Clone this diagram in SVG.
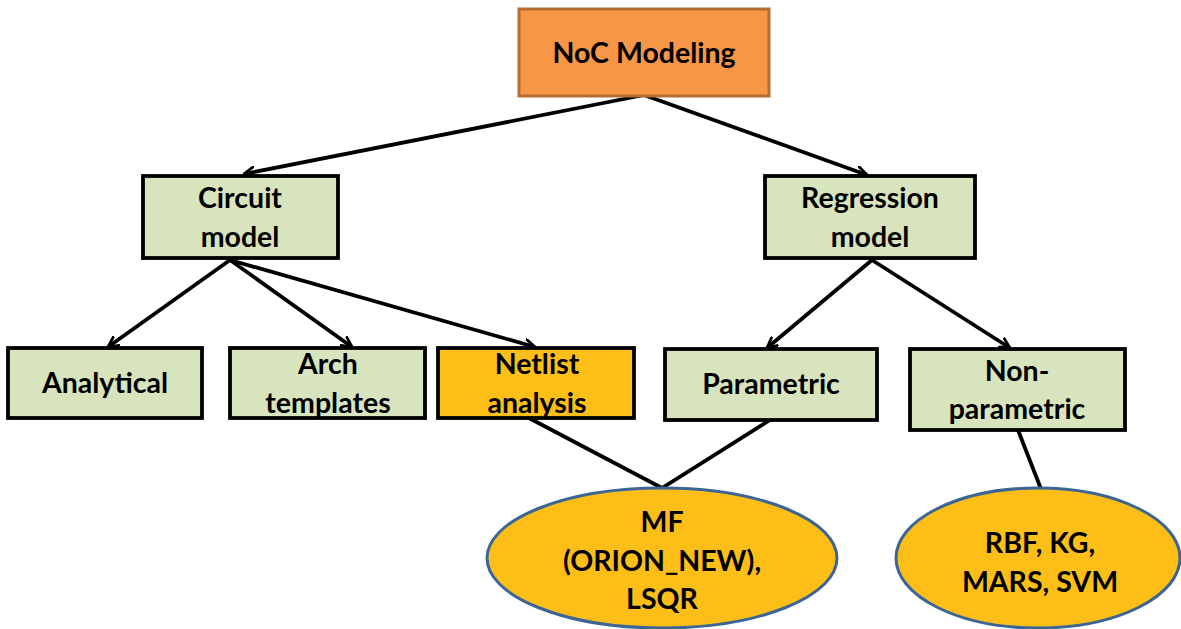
<svg xmlns="http://www.w3.org/2000/svg" width="1181" height="629" viewBox="0 0 1181 629">
  <defs>
    <marker id="arrow" viewBox="0 0 12 12" refX="11" refY="6" markerWidth="12" markerHeight="12" markerUnits="userSpaceOnUse" orient="auto">
      <polyline points="1,1 11,6 1,11" fill="none" stroke="#000" stroke-width="2.8" stroke-linecap="round" stroke-linejoin="miter"/>
    </marker>
    <style>
      .box { fill: #D7E4BD; stroke: #000; stroke-width: 3.8; }
      .hot { fill: #FDBF17; stroke: #000; stroke-width: 3.8; }
      .root { fill: #F79646; stroke: #B66D31; stroke-width: 3; }
      .oval { fill: #FDBF17; stroke: #3B6595; stroke-width: 3; }
      .lbl { font-family: Lato, "Open Sans", "Liberation Sans", sans-serif; font-weight: bold; font-size: 28.5px; fill: #000; text-anchor: middle; }
      .edge { stroke: #000; stroke-width: 3.8; fill: none; }
    </style>
  </defs>
  <rect width="1181" height="629" fill="#fff"/>

  <g id="connectors">
    <line class="edge" x1="644" y1="95" x2="244" y2="174" marker-end="url(#arrow)"/>
    <line class="edge" x1="644" y1="95" x2="867" y2="175" marker-end="url(#arrow)"/>
    <line class="edge" x1="230" y1="260" x2="108" y2="347" marker-end="url(#arrow)"/>
    <line class="edge" x1="230" y1="260" x2="352" y2="347" marker-end="url(#arrow)"/>
    <line class="edge" x1="230" y1="260" x2="535" y2="347" marker-end="url(#arrow)"/>
    <line class="edge" x1="872" y1="260" x2="767" y2="348" marker-end="url(#arrow)"/>
    <line class="edge" x1="872" y1="260" x2="1010" y2="348" marker-end="url(#arrow)"/>
    <polyline class="edge" points="527,417 662,488 770,420"/>
    <line class="edge" x1="1018" y1="430" x2="1041" y2="489"/>
  </g>

  <g id="noc-modeling">
    <rect class="root" x="519" y="9" width="250" height="87"/>
    <text class="lbl" x="644" y="63" font-size="31">NoC Modeling</text>
  </g>

  <g id="circuit-model">
    <rect class="box" x="143" y="176" width="195" height="82"/>
    <text class="lbl" x="240" y="208">Circuit</text>
    <text class="lbl" x="240" y="247">model</text>
  </g>

  <g id="regression-model">
    <rect class="box" x="765" y="176" width="210" height="82"/>
    <text class="lbl" x="870" y="208">Regression</text>
    <text class="lbl" x="870" y="247">model</text>
  </g>

  <g id="analytical">
    <rect class="box" x="8" y="348" width="194" height="70"/>
    <text class="lbl" x="105" y="393">Analytical</text>
  </g>

  <g id="arch-templates">
    <rect class="box" x="230" y="348" width="195" height="70"/>
    <text class="lbl" x="328" y="374">Arch</text>
    <text class="lbl" x="328" y="413">templates</text>
  </g>

  <g id="netlist-analysis">
    <rect class="hot" x="438" y="348" width="196" height="70"/>
    <text class="lbl" x="537" y="374">Netlist</text>
    <text class="lbl" x="537" y="413">analysis</text>
  </g>

  <g id="parametric">
    <rect class="box" x="665" y="349" width="212" height="71"/>
    <text class="lbl" x="771" y="394">Parametric</text>
  </g>

  <g id="non-parametric">
    <rect class="box" x="910" y="349" width="215" height="81"/>
    <text class="lbl" x="1017" y="381">Non-</text>
    <text class="lbl" x="1017" y="419">parametric</text>
  </g>

  <g id="mf-lsqr">
    <ellipse class="oval" cx="662" cy="558" rx="175" ry="70"/>
    <text class="lbl" x="662" y="532">MF</text>
    <text class="lbl" x="662" y="571">(ORION_NEW),</text>
    <text class="lbl" x="662" y="609">LSQR</text>
  </g>

  <g id="rbf-kg-mars-svm">
    <ellipse class="oval" cx="1038" cy="558" rx="142" ry="70"/>
    <text class="lbl" x="1040" y="553">RBF, KG,</text>
    <text class="lbl" x="1040" y="592">MARS, SVM</text>
  </g>
</svg>
